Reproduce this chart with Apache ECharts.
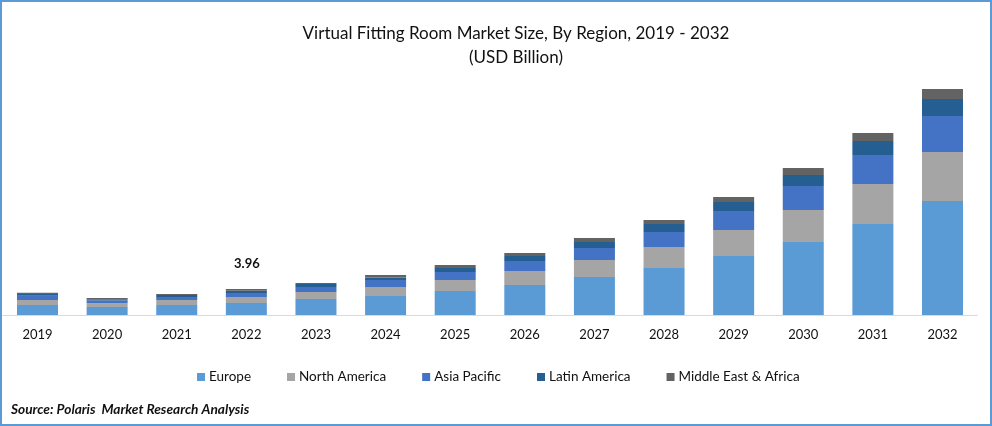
<!DOCTYPE html>
<html>
<head>
<meta charset="utf-8">
<style>
  html, body { margin: 0; padding: 0; background: #fff; }
  #chart { width: 992px; height: 426px; }
</style>
<script src="https://cdn.jsdelivr.net/npm/echarts@6/dist/echarts.min.js"></script>
</head>
<body>
<div id="chart"></div>
<script>
const years = ['2019','2020','2021','2022','2023','2024','2025','2026','2027','2028','2029','2030','2031','2032']

// values in USD billion (2022 total is the labelled 3.96)
const europe = [1.52,1.22,1.52,1.83,2.44,2.89,3.66,4.57,5.79,7.16,8.99,11.12,13.86,17.37]
const northAmerica = [0.76,0.58,0.76,0.91,1.07,1.37,1.68,2.13,2.59,3.2,3.96,4.87,6.09,7.46]
const asiaPacific = [0.65,0.4,0.46,0.61,0.76,1.06,1.22,1.52,1.83,2.28,2.89,3.66,4.42,5.48]
const latinAmerica = [0.26,0.2,0.3,0.35,0.46,0.41,0.61,0.76,0.91,1.22,1.37,1.68,2.13,2.59]
const middleEast = [0.2,0.18,0.15,0.26,0.15,0.35,0.46,0.46,0.61,0.61,0.76,1.07,1.22,1.52]

const regions = [
  { name: 'Europe', data: europe, color: '#5B9BD5' },
  { name: 'North America', data: northAmerica, color: '#A5A5A5' },
  { name: 'Asia Pacific', data: asiaPacific, color: '#4472C4' },
  { name: 'Latin America', data: latinAmerica, color: '#255E91' },
  { name: 'Middle East & Africa', data: middleEast, color: '#636363' },
]

const font = 'Lato, "Open Sans", sans-serif'
const chart = echarts.init(document.getElementById('chart'), null, { renderer: 'canvas' })

chart.setOption({
  animation: false,
  backgroundColor: '#fff',
  title: {
    text: 'Virtual Fitting Room Market Size, By Region, 2019 - 2032\n(USD Billion)',
    left: 511,
    top: 17,
    textAlign: 'center',
    textStyle: { fontFamily: font, fontSize: 17, fontWeight: 400, color: '#111', lineHeight: 24 },
  },
  legend: {
    left: 192,
    top: 365,
    itemWidth: 8,
    itemHeight: 8,
    itemGap: 36,
    icon: 'rect',
    data: regions.map((r) => r.name),
    textStyle: { fontFamily: font, fontSize: 13.5, color: '#111', padding: [0, 0, 0, -1] },
  },
  grid: { left: 2.7, right: 14.7, top: 40, bottom: 111 },
  xAxis: {
    type: 'category',
    data: years,
    axisTick: { show: false },
    axisLine: { lineStyle: { color: '#d9d9d9', width: 1 } },
    axisLabel: { fontFamily: font, fontSize: 13, color: '#111', margin: 13 },
  },
  yAxis: { type: 'value', min: 0, max: 41.9, show: false },
  series: regions.map((r) => ({
    name: r.name,
    type: 'bar',
    stack: 'total',
    barWidth: 41,
    itemStyle: { color: r.color },
    data: r.data,
  })),
  graphic: [
    { type: 'text', left: 234, top: 257, style: { text: '3.96', font: `bold 13px ${font}`, fill: '#111' } },
    { type: 'text', left: 11, top: 403, style: { text: 'Source: Polaris  Market Research Analysis', font: `italic bold 13.7px ${font}`, fill: '#111' } },
    { type: 'rect', shape: { x: 1, y: 1, width: 990, height: 424 }, style: { fill: 'none', stroke: '#5B9BD5', lineWidth: 2 } },
  ],
})
</script>
</body>
</html>
